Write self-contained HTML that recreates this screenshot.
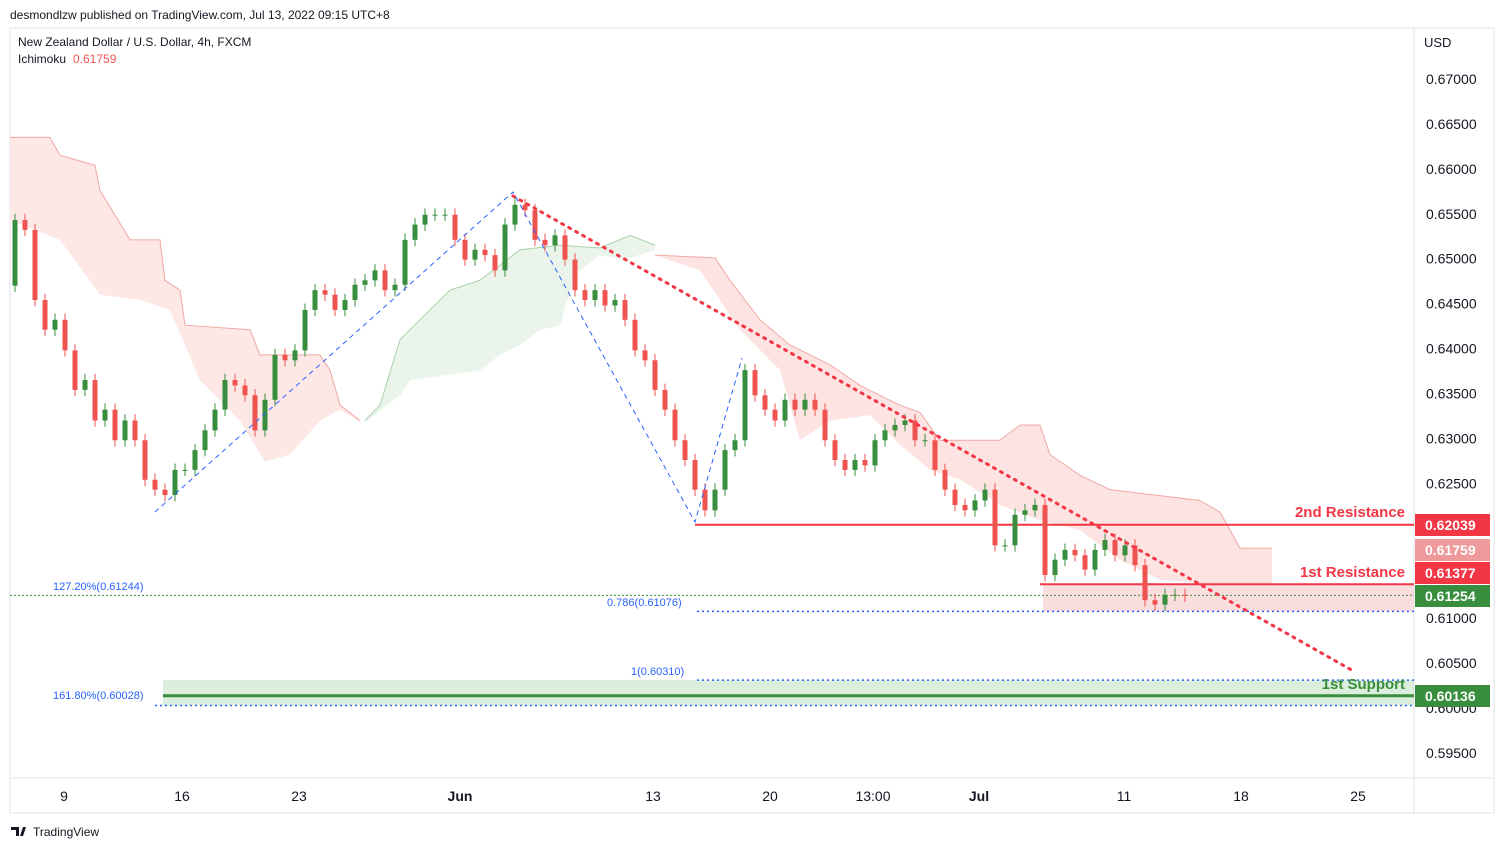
<!DOCTYPE html>
<html><head><meta charset="utf-8"><style>
body{margin:0;background:#fff;font-family:"Liberation Sans",sans-serif;}
#wrap{position:relative;width:1504px;height:849px;overflow:hidden;}
svg text{font-family:"Liberation Sans",sans-serif;}
</style></head><body>
<div id="wrap">
<svg id="chart" width="1504" height="849"></svg>
</div>
<script>
const closes=[0.6543,0.6532,0.6454,0.6421,0.6432,0.6398,0.6354,0.6365,0.6320,0.6332,0.6298,0.6320,0.6298,0.6254,0.6243,0.6237,0.6265,0.6265,0.6287,0.6309,0.6332,0.6365,0.6359,0.6348,0.6309,0.6343,0.6393,0.6387,0.6398,0.6443,0.6465,0.6460,0.6443,0.6454,0.6471,0.6476,0.6487,0.6465,0.6471,0.6521,0.6538,0.6549,0.6549,0.6549,0.6521,0.6499,0.6510,0.6504,0.6487,0.6538,0.6560,0.6554,0.6521,0.6515,0.6526,0.6499,0.6465,0.6454,0.6465,0.6448,0.6454,0.6432,0.6398,0.6387,0.6354,0.6332,0.6298,0.6276,0.6243,0.6220,0.6243,0.6287,0.6298,0.6376,0.6348,0.6332,0.6320,0.6343,0.6332,0.6343,0.6332,0.6298,0.6276,0.6265,0.6276,0.6270,0.6298,0.6309,0.6315,0.6320,0.6298,0.6298,0.6265,0.6243,0.6226,0.6220,0.6231,0.6243,0.6181,0.6181,0.6215,0.6220,0.6226,0.6148,0.6165,0.6176,0.6170,0.6154,0.6176,0.6187,0.6170,0.6181,0.6159,0.6120,0.6115,0.6126,0.6126,0.6125];
const firstOpen=0.6470;
const cloudRedLeftTop=[[-0.5,0.6635],[3.5,0.6635],[4.5,0.6615],[8,0.6604],[8.5,0.6576],[11.5,0.6521],[14.5,0.6521],[15,0.6476],[16.5,0.6465],[17,0.6426],[23.5,0.6421],[24.5,0.6393],[30.5,0.6393],[31.5,0.6376],[32.5,0.6337],[34.5,0.6320]];
const cloudRedLeftBot=[[-0.5,0.6543],[4.5,0.6521],[8.5,0.6460],[12.5,0.6454],[15.5,0.6443],[18.5,0.6365],[22.5,0.6320],[25,0.6274],[27.5,0.6282],[30.5,0.6320],[32.5,0.6332],[34.5,0.6318]];
const cloudGreenTop=[[35,0.6320],[36.5,0.6337],[38.5,0.6410],[40.5,0.6432],[43.5,0.6465],[46.5,0.6476],[48.5,0.6493],[50.5,0.6510],[54.5,0.6515],[58.5,0.6512],[61.5,0.6526],[64,0.6515]];
const cloudGreenBot=[[35,0.6318],[38.5,0.6348],[39.5,0.6365],[43.5,0.6371],[46.5,0.6376],[48.5,0.6393],[50.5,0.6404],[52.5,0.6421],[54.5,0.6426],[56,0.6482],[58.5,0.6504],[61,0.6499],[64,0.6510]];
const cloudRedRightTop=[[64,0.6504],[70,0.6501],[71.5,0.6476],[74.5,0.6432],[77.5,0.6404],[81.5,0.6382],[84.5,0.6359],[88.5,0.6337],[90.5,0.6329],[92.5,0.6298],[98.5,0.6298],[100.5,0.6315],[102.5,0.6315],[103.5,0.6282],[106.5,0.6259],[109.5,0.6243],[118.5,0.6231],[120.5,0.6218],[122.5,0.6178],[125.7,0.6178]];
const cloudRedRightBot=[[64,0.6504],[68.5,0.6487],[72.5,0.6421],[76.5,0.6376],[78.5,0.6298],[81.5,0.6320],[85.5,0.6326],[88.5,0.6293],[91.5,0.6265],[94.5,0.6254],[98.5,0.6226],[102.5,0.6209],[106.5,0.6198],[110.5,0.6165],[114.5,0.6143],[118.5,0.6139],[125.7,0.6139]];
const priceTicks=[0.67,0.665,0.66,0.655,0.65,0.645,0.64,0.635,0.63,0.625,0.61,0.605,0.60,0.595];
const xLabels=["9","16","23","Jun","13","20","13:00","Jul","11","18","25"];
const xLabelPos=[64,182,299,460,653,770,873,979,1124,1241,1358];

const S=document.getElementById('chart');const NS='http://www.w3.org/2000/svg';
function y(p){return 79+(0.67-p)/0.005*44.93;}
function x(i){return 15+i*10;}
function el(t,a,parent){const e=document.createElementNS(NS,t);for(const k in a)e.setAttribute(k,a[k]);(parent||S).appendChild(e);return e;}
function txt(s,a){const e=el('text',a);e.textContent=s;return e;}

el('rect',{x:0,y:0,width:1504,height:849,fill:'#fff'});
el('rect',{x:10,y:28,width:1484,height:785,fill:'none',stroke:'#e0e3eb'});
el('line',{x1:1414,y1:28,x2:1414,y2:813,stroke:'#e0e3eb'});
el('line',{x1:10,y1:778,x2:1494,y2:778,stroke:'#e0e3eb'});

function cloud(top,bot,fill,stroke,name){
  const pts=top.map(d=>x(d[0])+','+y(d[1])).concat(bot.slice().reverse().map(d=>x(d[0])+','+y(d[1]))).join(' ');
  const p=el('polygon',{points:pts,fill:fill,stroke:'none'});
  
  
  const l=el('polyline',{points:top.map(d=>x(d[0])+','+y(d[1])).join(' '),fill:'none',stroke:stroke,'stroke-width':1});
  
  
}
cloud(cloudRedLeftTop,cloudRedLeftBot,'#fde8e6','#f0a8a4','ichimoku-cloud-red-left');
cloud(cloudGreenTop,cloudGreenBot,'#eaf4ea','#a9d3a9','ichimoku-cloud-green');
cloud(cloudRedRightTop,cloudRedRightBot,'#fde3e1','#f0a8a4','ichimoku-cloud-red-right');

let z=el('rect',{x:1043,y:y(0.61377),width:371,height:y(0.61076)-y(0.61377),fill:'#f8d0d0',opacity:0.7});

z=el('rect',{x:163,y:y(0.6031),width:1251,height:y(0.60028)-y(0.6031),fill:'#d7ecd7',opacity:0.9});


function hl(p,x1,color,w,dash,name){const l=el('line',{x1:x1,x2:1414,y1:y(p),y2:y(p),stroke:color,'stroke-width':w,'stroke-dasharray':dash||''});}
hl(0.62039,695,'#f23645',2,'','second-resistance-line');
hl(0.61377,1040,'#f23645',2,'','first-resistance-line');
hl(0.61254,10,'#388e3c',1,'2,2','current-price-line');
hl(0.61076,697,'#2962ff',1.5,'2,3','fib-0786-line');
hl(0.6031,697,'#2962ff',1.5,'2,3','fib-1-line');
hl(0.60136,163,'#388e3c',3,'','first-support-line');
hl(0.60028,155,'#2962ff',1.5,'2,3','fib-1618-line');

let prev=firstOpen;
closes.forEach((c,i)=>{
  const o=prev;prev=c;const up=c>=o;const col=up?'#388e3c':'#ef5350';
  const hi=Math.max(o,c)+0.0007,lo=Math.min(o,c)-0.0007;
  const g=el('g',{});
  
  
  el('line',{x1:x(i),x2:x(i),y1:y(hi),y2:y(lo),stroke:col,'stroke-width':1},g);
  el('rect',{x:x(i)-2.5,y:y(Math.max(o,c)),width:5,height:Math.max(1,Math.abs(y(o)-y(c))),fill:col},g);
});

let t=el('line',{x1:513,y1:196,x2:1355,y2:672,stroke:'#f23645','stroke-width':3,'stroke-dasharray':'2,6','stroke-linecap':'round'});

t=el('polyline',{points:'155,512 513,192 695,522 742,358',fill:'none',stroke:'#2962ff','stroke-width':1,'stroke-dasharray':'5,4'});


function lab(s,a,name){const e=txt(s,a);}
lab('127.20%(0.61244)',{x:53,y:590,'font-size':11,fill:'#2962ff'},'fib-1272-label');
lab('0.786(0.61076)',{x:607,y:606,'font-size':11,fill:'#2962ff'},'fib-0786-label');
lab('1(0.60310)',{x:631,y:675,'font-size':11,fill:'#2962ff'},'fib-1-label');
lab('161.80%(0.60028)',{x:53,y:699,'font-size':11,fill:'#2962ff'},'fib-1618-label');
lab('2nd Resistance',{x:1405,y:517,'font-size':15,'font-weight':'bold',fill:'#f23645','text-anchor':'end'},'second-resistance-label');
lab('1st Resistance',{x:1405,y:577,'font-size':15,'font-weight':'bold',fill:'#f23645','text-anchor':'end'},'first-resistance-label');
lab('1st Support',{x:1405,y:689,'font-size':15,'font-weight':'bold',fill:'#388e3c','text-anchor':'end'},'first-support-label');

lab('USD',{x:1424,y:47,'font-size':13,fill:'#131722'},'currency-label');
priceTicks.forEach(p=>{const e=txt(p.toFixed(5),{x:1426,y:y(p)+5,'font-size':14,fill:'#131722'});
  
  });
function badge(cy,txtS,bg,name){const g=el('g',{});
  el('rect',{x:1415,y:cy-11,width:75,height:22,fill:bg},g);
  const t=el('text',{x:1425,y:cy+5,'font-size':14,'font-weight':'bold',fill:'#fff'},g);t.textContent=txtS;}
badge(525,'0.62039','#f23645','second-resistance-badge');
badge(550,'0.61759','#ee9a9a','ichimoku-badge');
badge(573,'0.61377','#f23645','first-resistance-badge');
badge(596,'0.61254','#388e3c','last-price-badge');
badge(696,'0.60136','#388e3c','first-support-badge');

xLabels.forEach((s,i)=>{const e=txt(s,{x:xLabelPos[i],y:801,'font-size':14,fill:'#131722','text-anchor':'middle','font-weight':(s==='Jun'||s==='Jul')?'bold':'normal'});
  
  });

lab('desmondlzw published on TradingView.com, Jul 13, 2022 09:15 UTC+8',{x:10,y:19,'font-size':12,fill:'#131722'},'publish-info');
lab('New Zealand Dollar / U.S. Dollar, 4h, FXCM',{x:18,y:46,'font-size':12,fill:'#131722'},'symbol-title');
lab('Ichimoku',{x:18,y:63,'font-size':12,fill:'#131722'},'indicator-name');
lab('0.61759',{x:73,y:63,'font-size':12,fill:'#ef5350'},'indicator-value');
lab('TradingView',{x:33,y:836,'font-size':12,fill:'#131722'},'tradingview-logo');
el('path',{d:'M11 827h8v9h-3v-6h-5z M20 836l3-9h3l-3 9z',fill:'#131722'});
</script>
</body></html>
